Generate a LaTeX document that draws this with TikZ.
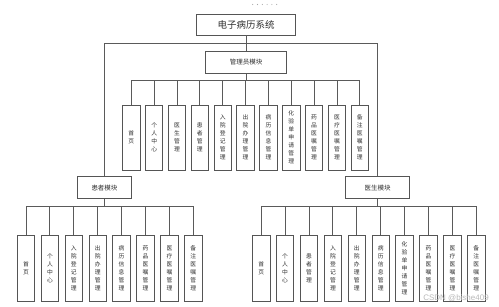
\documentclass[tikz,border=0pt]{standalone}
\usepackage{fontspec}
\newfontfamily\cjk{Noto Sans CJK SC}
\newfontfamily\wmfont{Liberation Sans}
\definecolor{boxc}{HTML}{555555}
\definecolor{linec}{HTML}{5A5A5A}
\definecolor{txtc}{HTML}{303030}
\begin{document}
\begin{tikzpicture}[x=1pt,y=-1pt,
  box/.style={draw=boxc, line width=0.9pt, fill=white, inner sep=0pt, text=txtc, font=\cjk\fontsize{6.5}{7}\selectfont},
  leaf/.style={box, minimum width=17.5pt, align=center, font=\cjk\fontsize{5.8}{8}\selectfont},
  conn/.style={draw=linec, line width=0.9pt}]
\useasboundingbox (0,0) rectangle (499,307);
\fill[white] (0,0) rectangle (499,307);
% dots at top
\foreach \k in {0,...,5}{\fill[gray!70] ({252.7+4.8*\k},4.5) circle (0.55pt);}
% main boxes
\node[box, minimum width=98.6pt, minimum height=21pt, font=\cjk\fontsize{9.5}{10}\selectfont] (root) at (246,24.5) {电子病历系统};
\node[box, minimum width=80.3pt, minimum height=21.6pt] (admin) at (246,62.5) {管理员模块};
\node[box, minimum width=54.4pt, minimum height=22pt] (pat) at (104.5,187.7) {患者模块};
\node[box, minimum width=63.6pt, minimum height=22pt] (doc) at (377.5,187.7) {医生模块};
\coordinate (j0) at (246,43.7);
\coordinate (ja) at (246,80.3);
\coordinate (jp) at (104.5,206.7);
\coordinate (jd) at (377.5,206.7);
\draw[conn] (root) -- (admin);
\draw[conn] (j0) -| (pat.north);
\draw[conn] (j0) -| (doc.north);
\draw[conn] (admin) -- (ja);
\draw[conn] (pat) -- (jp);
\draw[conn] (doc) -- (jd);
% admin leaves
\foreach \t [count=\i from 0] in {{首\\页},{个\\人\\中\\心},{医\\生\\管\\理},{患\\者\\管\\理},{入\\院\\登\\记\\管\\理},{出\\院\\办\\理\\管\\理},{病\\历\\信\\息\\管\\理},{化\\验\\单\\申\\请\\管\\理},{药\\品\\医\\嘱\\管\\理},{医\\疗\\医\\嘱\\管\\理},{备\\注\\医\\嘱\\管\\理}}{
  \node[leaf, minimum height=64.7pt] (a\i) at ({131.3+22.85*\i},137.65) {\t};
  \draw[conn] (ja) -| (a\i.north);
}
% patient leaves
\foreach \t [count=\i from 0] in {{首\\页},{个\\人\\中\\心},{入\\院\\登\\记\\管\\理},{出\\院\\办\\理\\管\\理},{病\\历\\信\\息\\管\\理},{药\\品\\医\\嘱\\管\\理},{医\\疗\\医\\嘱\\管\\理},{备\\注\\医\\嘱\\管\\理}}{
  \node[leaf, minimum height=65.7pt] (p\i) at ({26+23.9*\i},268.15) {\t};
  \draw[conn] (jp) -| (p\i.north);
}
% doctor leaves
\foreach \t [count=\i from 0] in {{首\\页},{个\\人\\中\\心},{患\\者\\管\\理},{入\\院\\登\\记\\管\\理},{出\\院\\办\\理\\管\\理},{病\\历\\信\\息\\管\\理},{化\\验\\单\\申\\请\\管\\理},{药\\品\\医\\嘱\\管\\理},{医\\疗\\医\\嘱\\管\\理},{备\\注\\医\\嘱\\管\\理}}{
  \node[leaf, minimum height=65.7pt] (d\i) at ({261.2+23.9*\i},268.15) {\t};
  \draw[conn] (jd) -| (d\i.north);
}
\node[text=gray!55, font=\wmfont\fontsize{8}{9}\selectfont, inner sep=0pt] (wm) at (456,298) {CSDN @bishe409};
\end{tikzpicture}
\end{document}
